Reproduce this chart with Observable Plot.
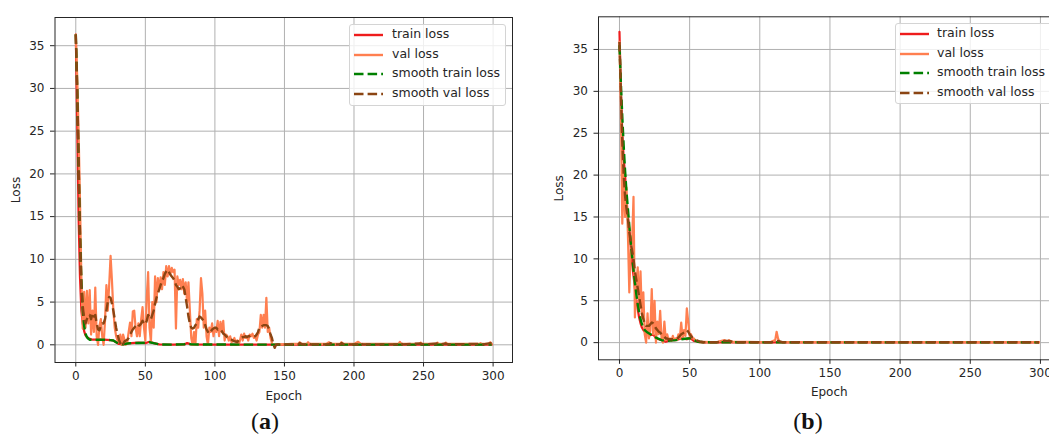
<!DOCTYPE html>
<html><head><meta charset="utf-8">
<script src="https://cdn.jsdelivr.net/npm/d3@7"></script>
<script src="https://cdn.jsdelivr.net/npm/@observablehq/plot@0.6"></script>
<style>
html,body{margin:0;padding:0;background:#fff;}
body{width:1049px;height:434px;overflow:hidden;position:relative;font-family:"DejaVu Sans",sans-serif;}
.panel{position:absolute;top:0;}
.panel svg{max-width:none !important;}
.legend{position:absolute;background:rgba(255,255,255,0.8);border:1px solid #d4d4d4;border-radius:3px;box-sizing:border-box;overflow:visible;}
.lrow{position:absolute;font-size:12.5px;color:#262626;white-space:nowrap;line-height:14px;}
.cap{position:absolute;font-family:"Liberation Serif",serif;font-size:24px;color:#111;transform:translate(-50%,-50%);}
</style></head>
<body>
<div id="pa" class="panel" style="left:0px;width:530px"></div>
<div id="pb" class="panel" style="left:530px;width:535px"></div>
<div class="cap" style="left:265px;top:421px">(<b>a</b>)</div>
<div class="cap" style="left:808px;top:421px">(<b>b</b>)</div>
<script>
// ---------- tick labels ----------
const xTicks = [0, 50, 100, 150, 200, 250, 300];
const yTicks = [0, 5, 10, 15, 20, 25, 30, 35];
const legendLabels = ["train loss", "val loss", "smooth train loss", "smooth val loss"];

// ---------- panel (a) ----------
const trainAEpoch = [0,1,2,3,4,5,6,7,8,9,10,12,15,20,25,27,29,31,34,37,40,45,50,53,56,60,70,78,80,83,100,150,200,250,299];
const trainALoss  = [36.3,26,15,8,4,2.5,1.6,1.1,0.9,0.8,0.7,0.6,0.6,0.6,0.55,0.5,0.3,0.1,0.05,0.15,0.2,0.25,0.2,0.35,0.2,0.05,0.02,0.05,0.2,0.05,0.03,0.02,0.02,0.02,0.02];
const smoothTrainALoss = [36.3,30,21,13,7.5,4,2.2,1.3,0.9,0.7,0.6,0.6,0.6,0.6,0.55,0.5,0.3,0.12,0.05,0.15,0.2,0.22,0.25,0.3,0.2,0.05,0.02,0.07,0.15,0.05,0.03,0.02,0.02,0.02,0.02];

// val loss, epochs 0..144 one per epoch, then the tail
const valALoss = [36.3,31.4,25,17,8,1.9,6.2,2,6.3,2.5,
 6.4,1.2,4,1.5,6.7,1,0,2.2,3,1,
 0,2.8,7,4,7,10.4,7.5,4,2,1,
 0.5,0.3,1.2,0,1.2,0.6,0,0.3,1.5,2.6,
 1,3.9,4,2,1,2.5,1,3,4.4,2,
 0.5,5.5,8.5,2,0.3,5,2,8,5,7.8,
 6.5,7.9,6.5,8.5,7,9.2,8,9.2,8.3,9,
 8.5,8.8,1.9,8,7,7.6,6.5,7.7,6,7.3,
 5,7.3,4,0.8,0,1.5,0,3,2,4,
 7.8,6,2,4,1,0,2,1.5,2.5,1,
 2,1.5,2.8,1,2.7,1.5,2.8,0.5,1.2,1,
 0.5,1,0.3,0.5,0.8,0.3,0.5,0,0.5,1.2,
 0.5,1.3,0.8,1,0.5,1.2,1,1.3,0.8,1,
 0.5,1.2,1.5,3.5,2,3.5,2,5.5,1.5,2,
 0.8,0.2,0,-0.1,0.05];
const valATailEpoch = [150,155,160,161,162,166,167,168,175,180,182,184,190,191,192,200,203,205,220,232,233,234,247,248,249,259,260,261,265,266,267,280,290,291,292,297,298,299];
const valATailLoss  = [0.05,0.1,0.1,0.3,0.1,0.1,0.3,0.1,0.1,0.1,0.3,0.1,0.1,0.3,0.1,0.1,0.35,0.1,0.1,0.1,0.35,0.1,0.1,0.25,0.1,0.1,0.25,0.1,0.1,0.25,0.1,0.1,0.1,0.2,0.1,0.1,0.3,0.1];

const smoothValALoss = [36.3,30,22,13,7,4.5,3,2.5,3,3.5,
 3.5,3,3.7,3.3,3.5,2.5,1.8,1.7,2.2,2.5,
 2.5,3,4,5,5.6,5.5,4.8,4,3,2,
 1.2,0.6,0.2,-0.15,0.1,0.4,0.5,0.6,0.8,1.2,
 1.5,1.8,2,2.2,2,2.2,2.3,2.5,2.8,2.5,
 2.4,2.8,3.5,3.3,3,3.5,4,4.8,5.5,6,
 6.5,7,7.5,7.8,8.3,8.6,8.8,8.5,8.2,8,
 7.8,7.5,7,6.8,6.5,6.6,7,6.8,6.5,5.5,
 4.5,3.3,2.5,2,1.9,2,2.3,2.5,3,3.3,
 3.2,3,2.8,2.3,1.8,1.5,1.3,1.5,1.8,1.9,
 2,2,1.8,1.9,1.8,1.6,1.3,1.2,1,0.9,
 0.8,0.7,0.6,0.5,0.4,0.4,0.3,0.5,0.7,0.8,
 0.9,0.9,1,0.9,1,1,1.1,1,1,1,
 1.2,1.5,2,2,2.2,2.3,2.3,2.3,2.2,1.8,
 1.2,0.8,0.1,-0.35,0,0.05];
const smoothValATailEpoch = [150,160,161,163,166,167,169,182,183,185,190,191,193,203,204,206,232,233,235,248,250,260,262,266,268,291,293,298,299];
const smoothValATailLoss  = [0.05,0.05,0.2,0.05,0.05,0.2,0.05,0.05,0.2,0.05,0.05,0.2,0.05,0.05,0.22,0.05,0.05,0.22,0.05,0.15,0.05,0.15,0.05,0.15,0.05,0.12,0.05,0.2,0.15];

// ---------- panel (b) ----------
const trainBEpoch = [0,1,2,3,4,5,6,7,8,9,10,11,12,13,14,15,16,17,18,20,22,24,26,28,30,33,36,40,44,48,50,53,56,60,100,150,200,250,299];
const trainBLoss  = [37.1,30,25,22,20,17,15,13.5,11.5,9.5,8,6.5,5,4,3,2.3,1.8,1.5,1.3,1.2,0.9,1,0.5,0.4,0.3,0.1,0.3,0.3,0.5,0.4,0.6,0.2,0.1,0.03,0.02,0.02,0.02,0.02,0.02];
const smoothTrainBLoss = [35.5,31,27,23.5,20.5,18,16,14,12,10.3,8.7,7.2,5.8,4.6,3.6,2.8,2.2,1.8,1.5,1.2,1,0.8,0.6,0.45,0.3,0.2,0.25,0.3,0.4,0.5,0.5,0.3,0.1,0.05,0.03,0.03,0.03,0.03,0.03];

// val loss, epochs 0..57 one per epoch, then the tail
const valBLoss = [35.9,28,14.2,20.5,15,18.5,13,6,11,12,
 17.4,3,7,9,4,8.5,3,6,1,0,
 3.5,0.5,1.5,6.4,1,5,0,2.5,1,3.8,
 0.5,0,2.5,0.3,1,0.3,0.5,0.2,0.8,0.3,
 0.5,0.3,1,0.5,2.4,0.5,1.5,0.8,4.1,2.5,
 0.8,1,0.5,0.5,0.3,0.2,0.1,0.05];
const valBTailEpoch = [60,65,70,72,75,77,78,80,90,100,108,111,112,113,114,120,150,200,250,299];
const valBTailLoss  = [0.1,0.05,0.1,0.2,0.3,0.1,0.3,0.1,0.1,0.05,0.1,0.3,1.3,0.5,0.1,0.05,0.05,0.05,0.05,0.05];

const smoothValBLoss = [35.9,30,24,20,17.5,16,14.8,13.2,12,11,
 10,8.5,7.5,6.5,5.5,4.5,3.5,2.8,2.3,2,
 2,2,2.2,2.4,2.3,2,1.7,1.5,1.3,1.2,
 1,0.8,0.7,0.5,0.5,0.4,0.4,0.4,0.4,0.4,
 0.4,0.5,0.6,0.8,1,1.1,1.2,1.3,1.5,1.3,
 1];
const smoothValBTailEpoch = [51,52,54,56,58,60,70,75,78,82,110,113,116,150,200,250,299];
const smoothValBTailLoss  = [0.8,0.6,0.4,0.2,0.1,0.05,0.05,0.2,0.2,0.05,0.05,0.2,0.05,0.05,0.05,0.05,0.05];

// ---------- helpers ----------
const pts = (epochs, losses) => epochs.map((e, i) => ({epoch: e, loss: losses[i]}));
const densePts = (losses, tailE, tailL) =>
  losses.map((l, i) => ({epoch: i, loss: l})).concat(pts(tailE, tailL));

const colors = ["#ee1c1c", "#ff7f50", "#008000", "#8b4513"];
const dash = "9.5,4.1";

function panel(o) {
  const S = o.series;
  return Plot.plot({
    width: o.width, height: o.height,
    marginLeft: o.ml, marginRight: o.mr, marginTop: o.mt, marginBottom: o.mb,
    x: {domain: [-14.95, 313.95]},
    y: {domain: o.yDomain},
    style: {fontFamily: "DejaVu Sans", fontSize: "12px", color: "#262626", background: "transparent", overflow: "visible", maxWidth: "none"},
    marks: [
      Plot.gridX(xTicks, {stroke: "#b0b0b0", strokeOpacity: 1, strokeWidth: 1}),
      Plot.gridY(yTicks, {stroke: "#b0b0b0", strokeOpacity: 1, strokeWidth: 1}),
      Plot.line(S[0], {x: "epoch", y: "loss", stroke: colors[0], strokeWidth: 2.2}),
      Plot.line(S[1], {x: "epoch", y: "loss", stroke: colors[1], strokeWidth: 2.2}),
      Plot.line(S[2], {x: "epoch", y: "loss", stroke: colors[2], strokeWidth: 2.4, strokeDasharray: dash, strokeLinecap: "butt"}),
      Plot.line(S[3], {x: "epoch", y: "loss", stroke: colors[3], strokeWidth: 2.4, strokeDasharray: dash, strokeLinecap: "butt"}),
      Plot.frame({stroke: "#262626", strokeWidth: 1}),
      Plot.axisX(xTicks, {tickSize: 4.5, tickPadding: 4, label: null, fontSize: 12}),
      Plot.axisY(yTicks, {tickSize: 4.5, tickPadding: 6, label: null, fontSize: 12}),
      Plot.text(["Epoch"], {frameAnchor: "bottom", lineAnchor: "middle", textAnchor: "middle", dy: o.epochDy, fontSize: 12, fill: "#262626"}),
      Plot.text(["Loss"], {frameAnchor: "left", lineAnchor: "middle", textAnchor: "middle", rotate: -90, dx: o.lossDx, fontSize: 12, fill: "#262626"})
    ]
  });
}

const seriesA = [
  pts(trainAEpoch, trainALoss),
  densePts(valALoss, valATailEpoch, valATailLoss),
  pts(trainAEpoch, smoothTrainALoss),
  densePts(smoothValALoss, smoothValATailEpoch, smoothValATailLoss)
];
const seriesB = [
  pts(trainBEpoch, trainBLoss),
  densePts(valBLoss, valBTailEpoch, valBTailLoss),
  pts(trainBEpoch, smoothTrainBLoss),
  densePts(smoothValBLoss, smoothValBTailEpoch, smoothValBTailLoss)
];

document.getElementById("pa").appendChild(panel({
  series: seriesA, width: 530, height: 405, ml: 54.5, mr: 18, mt: 17, mb: 43,
  yDomain: [-2.07, 38.3], epochDy: 34, lossDx: -38.5
}));
document.getElementById("pb").appendChild(panel({
  series: seriesB, width: 535, height: 405, ml: 68, mr: 5.5, mt: 16.3, mb: 45.7,
  yDomain: [-2.05, 38.9], epochDy: 32.7, lossDx: -39
}));

// ---------- legends ----------
function legend(box, rows) {
  const div = document.createElement("div");
  div.className = "legend";
  Object.assign(div.style, {left: box.x + "px", top: box.y + "px", width: box.w + "px", height: box.h + "px"});
  document.body.appendChild(div);
  legendLabels.forEach((lab, i) => {
    const cy = rows.cy0 + i * rows.step - box.y;
    const r = document.createElement("div");
    r.className = "lrow";
    r.style.left = "0px"; r.style.top = (cy - 7) + "px";
    const sx = rows.sx - box.x;
    const dashed = i >= 2;
    r.innerHTML =
      `<svg width="${box.w}" height="14" style="position:absolute;left:0;top:0;overflow:visible">` +
      `<line x1="${sx}" x2="${sx + 29}" y1="7" y2="7" stroke="${colors[i]}" stroke-width="2.4"` +
      (dashed ? ` stroke-dasharray="${dash}" stroke-linecap="butt"` : ` stroke-linecap="butt"`) + `/></svg>` +
      `<span style="position:absolute;left:${rows.tx - box.x}px;top:-1px">${lab}</span>`;
    div.appendChild(r);
  });
}
legend({x: 349, y: 24, w: 157, h: 82}, {cy0: 34, step: 19.7, sx: 353, tx: 391});
legend({x: 895, y: 23, w: 170, h: 81}, {cy0: 33, step: 19.6, sx: 899, tx: 936});
</script>
</body></html>
